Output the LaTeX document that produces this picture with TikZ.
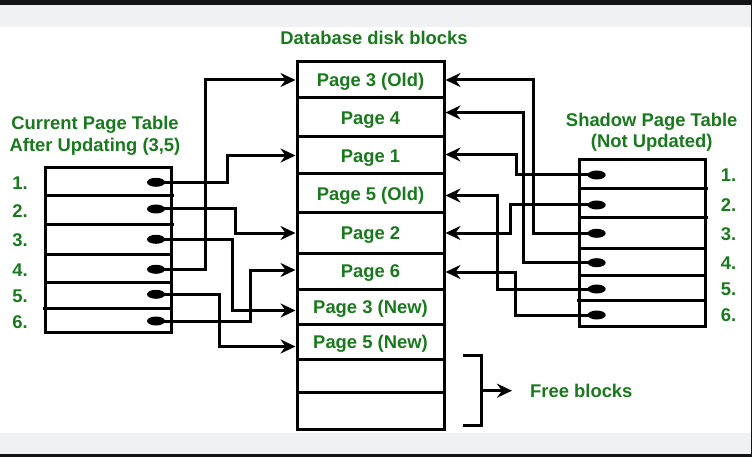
\documentclass[tikz,border=0pt]{standalone}
\usepackage{fontspec}
\setmainfont{Liberation Sans}
\usetikzlibrary{arrows.meta,shapes.geometric,calc}
\definecolor{ggreen}{RGB}{24,122,28}
\definecolor{topdark}{RGB}{19,20,23}
\definecolor{bandgray}{RGB}{240,241,243}
\newcommand{\lbfont}{\fontsize{18.4}{22}\selectfont\bfseries}
\tikzset{
  lbl/.style={font=\lbfont, text=ggreen, inner sep=0pt, text height=13.2pt, text depth=0pt},
  blk/.style={draw, line width=3pt, minimum width=147pt, inner sep=0pt, font=\lbfont, text=ggreen, text height=13.2pt, text depth=0pt},
  rowbox/.style={draw, line width=3pt, inner sep=0pt},
  conn/.style={line width=3pt, -{Stealth[length=15pt,width=14pt,inset=5pt]}},
  plain/.style={line width=3pt},
  dot/.style={ellipse, fill=black, minimum width=18pt, minimum height=9pt, inner sep=0pt}
}
\begin{document}
\begin{tikzpicture}[x=1pt,y=-1pt]
\useasboundingbox (0,0) rectangle (752,457);
% frame
\fill[white] (0,0) rectangle (752,457);
\fill[topdark] (0,0) rectangle (752,5);
\fill[bandgray] (0,5) rectangle (751,27);
\fill[bandgray] (0,432.7) rectangle (751,454.3);
\fill[topdark] (0,454.3) rectangle (752,457);
\fill[topdark] (751,5) rectangle (752,455);

% title
\node[lbl] (title) at (374,38) {Database disk blocks};

% database blocks
\node[blk, minimum height=36pt] (b1) at (370.5,80) {Page 3 (Old)};
\node[blk, minimum height=39pt] (b2) at (370.5,117.5) {Page 4};
\node[blk, minimum height=37pt] (b3) at (370.5,155.5) {Page 1};
\node[blk, minimum height=39pt] (b4) at (370.5,193.5) {Page 5 (Old)};
\node[blk, minimum height=40pt] (b5) at (370.5,233) {Page 2};
\node[blk, minimum height=36pt] (b6) at (370.5,271) {Page 6};
\node[blk, minimum height=35pt] (b7) at (370.5,306.5) {Page 3 (New)};
\node[blk, minimum height=35pt] (b8) at (370.5,341.5) {Page 5 (New)};
\node[blk, minimum height=33pt] (b9) at (370.5,375.5) {};
\node[blk, minimum height=37pt] (b10) at (370.5,410.5) {};

% current page table
\node[lbl] (ctitle1) at (95,123) {Current Page Table};
\node[lbl] (ctitle2) at (95,145) {After Updating (3,5)};
\foreach \i/\t/\b in {1/167.7/196, 2/196/224.7, 3/224.7/254.3, 4/254.3/282.7, 5/282.7/308.3, 6/308.3/332.3} {
  \node[rowbox, minimum width=126pt, minimum height={\b-\t}] (c\i) at (108.7,{(\t+\b)/2}) {};
}
\draw[plain] (171.7,196) -- (174,196);
\draw[plain] (171.7,224.7) -- (174,224.7);
\draw[plain] (43,308.3) -- (45.7,308.3);
\foreach \i/\y/\ly in {1/182.3/183, 2/209/211, 3/239.3/240, 4/269.3/270, 5/294.3/296, 6/321/322} {
  \node[dot] (cd\i) at (156,\y) {};
  \node[lbl] (cl\i) at (20,\ly) {\i.};
}

% shadow page table
\node[lbl] (stitle1) at (651.7,120) {Shadow Page Table};
\node[lbl] (stitle2) at (651.7,141) {(Not Updated)};
\foreach \i/\t/\b in {1/160/188.7, 2/188.7/218, 3/218/248.7, 4/248.7/275.3, 5/275.3/300.7, 6/300.7/326.7} {
  \node[rowbox, minimum width=125.7pt, minimum height={\b-\t}] (s\i) at (642.2,{(\t+\b)/2}) {};
}
\draw[plain] (705,188.7) -- (708,188.7);
\draw[plain] (705,218) -- (708,218);
\draw[plain] (577,300.7) -- (579.3,300.7);
\foreach \i/\y/\ly in {1/175/175, 2/205/205, 3/233.3/234, 4/262.7/263, 5/289/289, 6/315/315} {
  \node[dot] (sd\i) at (596.7,\y) {};
  \node[lbl] (sl\i) at (728.5,\ly) {\i.};
}

% current table connectors
\draw[conn] (cd1.center) -- ++(71,0) |- (b3.west);
\draw[conn] (cd2.center) -- ++(79,0) |- (b5.west);
\draw[conn] (cd3.center) -- ++(76,0) |- ([yshift=-4pt]b7.west);
\draw[conn] (cd4.center) -- ++(49,0) |- (b1.west);
\draw[conn] (cd5.center) -- ++(63,0) |- ([yshift=-5pt]b8.west);
\draw[conn] (cd6.center) -- ++(94.5,0) |- ([yshift=1pt]b6.west);

% shadow table connectors
\draw[conn] (sd1.center) -- ++(-80.7,0) |- ([yshift=1pt]b3.east);
\draw[conn] (sd2.center) -- ++(-86,0) |- (b5.east);
\draw[conn] (sd3.center) -- ++(-63.4,0) |- (b1.east);
\draw[conn] (sd4.center) -- ++(-73.4,0) |- ([yshift=5pt]b2.east);
\draw[conn] (sd5.center) -- ++(-99,0) |- ([yshift=-2pt]b4.east);
\draw[conn] (sd6.center) -- ++(-81.4,0) |- ([yshift=-1pt]b6.east);

% free blocks bracket
\coordinate (brtop) at (463,355.7);
\coordinate (brbot) at (463,425);
\coordinate (brmid) at (481.7,390.7);
\draw[plain] (brtop) -- (481.7,355.7) -- (481.7,425) -- (brbot);
\node[lbl, anchor=west] (free) at (530,390.7) {Free blocks};
\draw[conn] (brmid) -- ([xshift=-18pt]free.west);
\end{tikzpicture}
\end{document}
